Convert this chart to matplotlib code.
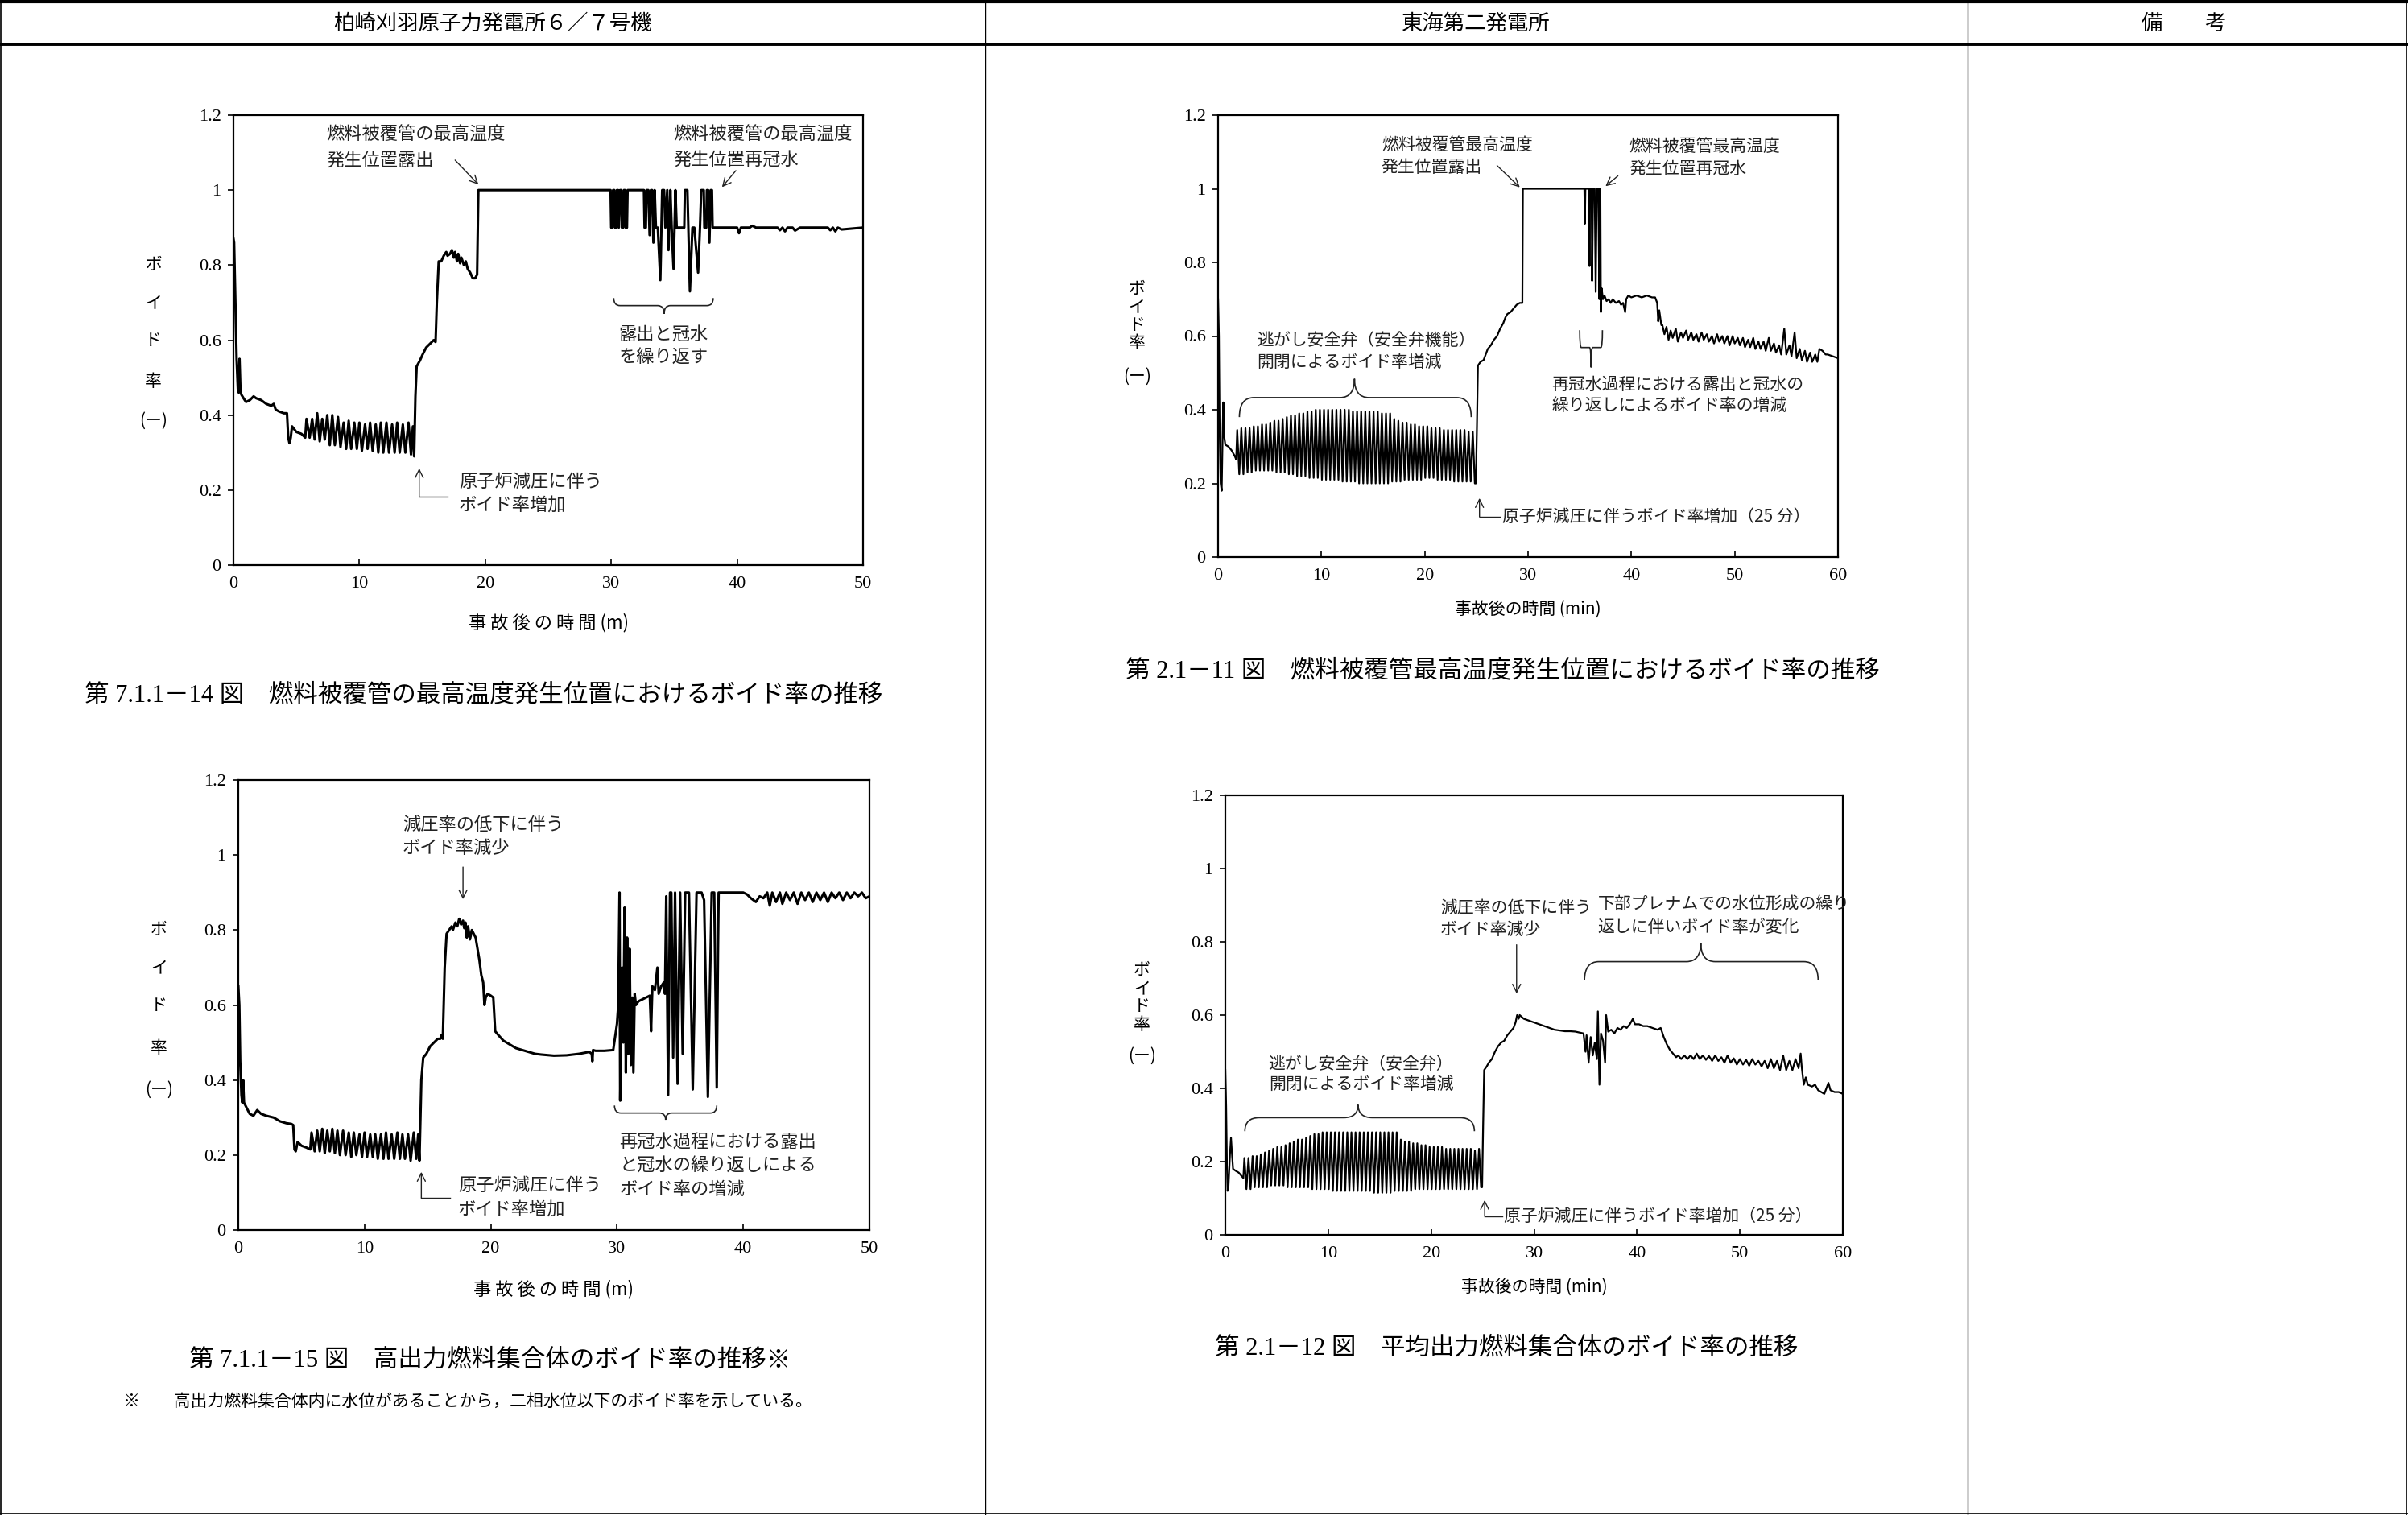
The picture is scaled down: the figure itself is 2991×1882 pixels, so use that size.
import numpy as np
import matplotlib
matplotlib.use("Agg")
import matplotlib.pyplot as plt
from matplotlib.path import Path
from matplotlib.patches import PathPatch
from matplotlib.lines import Line2D
import matplotlib.transforms as mtransforms

plt.rcParams['font.family'] = ['Liberation Serif', 'Noto Sans CJK JP', 'DejaVu Sans']
JP = ['Noto Sans CJK JP', 'DejaVu Sans']

W, H = 2991, 1882

# ---------------- data: 柏崎刈羽 (minutes, void fraction) ----------------
y_ticks = [0, 0.2, 0.4, 0.6, 0.8, 1.0, 1.2]
y_tick_labels = ["0", "0.2", "0.4", "0.6", "0.8", "1", "1.2"]
kk_x_ticks = [0, 10, 20, 30, 40, 50]
tk_x_ticks = [0, 10, 20, 30, 40, 50, 60]

# fig 7.1.1-14 : hottest cladding position
kk1_t_start = [0.0, 0.05, 0.15, 0.25, 0.35, 0.42, 0.48, 0.55, 0.62, 0.8, 1.0, 1.3, 1.6, 1.8, 2.2,
               2.6, 3.0, 3.2, 3.35, 3.6, 4.0, 4.25, 4.35, 4.45, 4.55, 4.65, 5.0, 5.4, 5.7]
kk1_v_start = [0.87, 0.86, 0.70, 0.55, 0.47, 0.46, 0.55, 0.47, 0.455, 0.445, 0.435, 0.44, 0.45, 0.445, 0.44,
               0.43, 0.425, 0.43, 0.415, 0.41, 0.405, 0.405, 0.34, 0.325, 0.34, 0.37, 0.355, 0.35, 0.34]
kk_osc_t = [5.80, 6.05, 6.25, 6.45, 6.65, 6.85, 7.05, 7.25, 7.45, 7.65, 7.85, 8.05, 8.30, 8.50,
            8.75, 8.95, 9.15, 9.35, 9.60, 9.80, 10.00, 10.20, 10.45, 10.65, 10.85, 11.05, 11.30, 11.50,
            11.70, 11.90, 12.15, 12.35, 12.60, 12.80, 13.00, 13.20, 13.45, 13.65, 13.90, 14.10, 14.25, 14.35]
kk1_osc_v = [0.39, 0.34, 0.39, 0.335, 0.405, 0.33, 0.39, 0.335, 0.40, 0.32, 0.40, 0.32, 0.395, 0.315,
             0.38, 0.31, 0.385, 0.31, 0.38, 0.31, 0.38, 0.305, 0.375, 0.31, 0.38, 0.305, 0.375, 0.30,
             0.38, 0.30, 0.38, 0.30, 0.375, 0.30, 0.38, 0.30, 0.375, 0.30, 0.38, 0.295, 0.37, 0.29]
kk1_t_end = [14.45, 14.55, 14.8, 15.0, 15.3, 15.6, 15.9, 16.05, 16.15, 16.3, 16.5, 16.7, 16.9, 17.0,
             17.2, 17.35, 17.5, 17.6, 17.75, 17.85, 18.0, 18.1, 18.3, 18.45, 18.6, 18.8, 19.0, 19.2,
             19.35, 19.45, 29.95,
             30.0, 30.1, 30.15, 30.25, 30.3, 30.4, 30.45, 30.55, 30.6, 30.7, 30.8, 30.85, 30.95, 31.0,
             31.1, 31.15, 31.25, 31.3, 32.6, 32.65, 32.75, 32.8, 32.95, 33.05, 33.15, 33.25, 33.35, 33.45,
             33.55, 33.7, 33.9, 34.05, 34.2, 34.3, 34.45, 34.55, 34.7, 34.8, 34.95, 35.1, 35.2, 35.8,
             35.85, 36.05, 36.25, 36.45, 36.6, 36.9, 37.05, 37.15, 37.35, 37.4, 37.55, 37.6, 37.7, 37.8,
             37.9, 38.0, 38.05, 38.2, 40.0, 40.15, 40.3, 41.0, 41.2, 41.5, 43.2, 43.4, 43.6, 43.8,
             44.0, 44.4, 44.6, 45.0, 47.2, 47.4, 47.6, 47.8, 48.0, 48.3, 50.0]
kk1_v_end = [0.45, 0.53, 0.545, 0.56, 0.58, 0.59, 0.60, 0.595, 0.70, 0.81, 0.81, 0.825, 0.835, 0.825,
             0.83, 0.84, 0.82, 0.835, 0.81, 0.83, 0.805, 0.82, 0.80, 0.81, 0.79, 0.78, 0.765, 0.765,
             0.775, 1.0, 1.0,
             0.9, 0.9, 1.0, 1.0, 0.9, 0.9, 1.0, 1.0, 0.9, 1.0, 1.0, 0.9, 0.9, 1.0,
             1.0, 0.9, 0.9, 1.0, 1.0, 0.9, 0.9, 1.0, 1.0, 0.88, 1.0, 1.0, 0.86, 1.0,
             0.9, 0.9, 0.76, 1.0, 1.0, 0.9, 1.0, 0.84, 1.0, 0.9, 0.79, 1.0, 0.9, 0.9,
             1.0, 1.0, 0.73, 0.9, 0.9, 0.78, 0.9, 1.0, 1.0, 0.9, 0.9, 1.0, 1.0, 0.86,
             1.0, 1.0, 0.9, 0.9, 0.9, 0.885, 0.9, 0.9, 0.905, 0.9, 0.9, 0.893, 0.9, 0.89,
             0.9, 0.9, 0.892, 0.9, 0.9, 0.893, 0.9, 0.89, 0.9, 0.895, 0.9]

# fig 7.1.1-15 : high power bundle
kk2_t_start = [0.0, 0.08, 0.15, 0.25, 0.32, 0.38, 0.45, 0.6, 0.9, 1.2, 1.5, 1.8, 2.2, 2.8, 3.3,
               3.8, 4.2, 4.35, 4.45, 4.55, 4.7, 5.0, 5.4, 5.7]
kk2_v_start = [0.65, 0.60, 0.45, 0.36, 0.34, 0.40, 0.34, 0.33, 0.31, 0.305, 0.32, 0.31, 0.305, 0.30, 0.29,
               0.285, 0.283, 0.28, 0.215, 0.21, 0.235, 0.225, 0.22, 0.215]
kk2_osc_v = [0.26, 0.21, 0.265, 0.21, 0.27, 0.205, 0.265, 0.21, 0.27, 0.205, 0.265, 0.20, 0.265, 0.20,
             0.26, 0.195, 0.26, 0.20, 0.255, 0.195, 0.26, 0.195, 0.255, 0.195, 0.255, 0.19, 0.255, 0.19,
             0.26, 0.19, 0.255, 0.19, 0.26, 0.19, 0.255, 0.19, 0.255, 0.185, 0.26, 0.19, 0.255, 0.185]
kk2_t_end = [14.5, 14.65, 14.9, 15.2, 15.5, 15.8, 16.0, 16.1, 16.2, 16.35, 16.5, 16.7, 16.9, 17.0,
             17.2, 17.35, 17.5, 17.65, 17.8, 17.9, 18.0, 18.1, 18.2, 18.35, 18.5, 18.65, 18.8, 18.95,
             19.1, 19.25, 19.4, 19.5, 19.6, 19.75, 20.0, 20.2, 20.35, 20.6, 21.0, 21.5, 22.0, 22.5,
             23.0, 23.5, 24.0, 25.0, 26.0, 27.0, 27.8, 28.0, 28.05, 28.1, 28.3, 29.0, 29.7,
             30.0, 30.1, 30.2, 30.25, 30.4, 30.5, 30.6, 30.7, 30.8, 30.9, 31.0, 31.1, 31.2, 31.3,
             31.4, 31.5, 31.7, 32.0, 32.3, 32.6, 32.7, 32.8, 33.0, 33.2, 33.3, 33.5, 33.7, 33.8,
             33.9, 34.05, 34.2, 34.3, 34.45, 34.6, 34.8, 35.0, 35.2, 35.4, 35.7, 36.0, 36.3, 36.7,
             36.9, 37.2, 37.5, 37.7, 37.9, 38.0, 38.05, 40.0, 40.3, 40.6, 41.0, 41.3, 41.6, 41.9,
             42.1, 42.3, 42.6, 42.9, 43.1, 43.4, 43.7, 44.0, 44.3, 44.6, 44.9, 45.2, 45.5, 45.8,
             46.1, 46.4, 46.7, 47.0, 47.3, 47.6, 47.9, 48.2, 48.5, 48.8, 49.1, 49.4, 49.7, 50.0]
kk2_v_end = [0.40, 0.46, 0.47, 0.49, 0.50, 0.51, 0.51, 0.52, 0.51, 0.70, 0.79, 0.80, 0.81, 0.80,
             0.82, 0.81, 0.83, 0.815, 0.825, 0.805, 0.82, 0.78, 0.81, 0.775, 0.80, 0.79, 0.78, 0.75,
             0.72, 0.68, 0.66, 0.60, 0.62, 0.63, 0.625, 0.62, 0.53, 0.52, 0.505, 0.495, 0.485, 0.48,
             0.475, 0.47, 0.468, 0.465, 0.466, 0.47, 0.475, 0.47, 0.45, 0.48, 0.478, 0.478, 0.48,
             0.55, 0.60, 0.90, 0.345, 0.70, 0.50, 0.86, 0.42, 0.78, 0.47, 0.75, 0.44, 0.62, 0.42,
             0.63, 0.60, 0.61, 0.615, 0.62, 0.625, 0.53, 0.65, 0.64, 0.70, 0.63, 0.65, 0.66, 0.63,
             0.89, 0.36, 0.90, 0.90, 0.46, 0.90, 0.39, 0.90, 0.47, 0.90, 0.90, 0.375, 0.90, 0.90,
             0.88, 0.355, 0.90, 0.90, 0.38, 0.75, 0.90, 0.90, 0.895, 0.885, 0.875, 0.89, 0.885, 0.90,
             0.865, 0.90, 0.875, 0.90, 0.87, 0.90, 0.88, 0.90, 0.87, 0.90, 0.88, 0.90, 0.875, 0.90,
             0.88, 0.90, 0.875, 0.90, 0.885, 0.90, 0.88, 0.90, 0.885, 0.90, 0.89, 0.90, 0.885, 0.89]

# ---------------- data: 東海第二 ----------------
tk_peak_t = [1.85, 2.25, 2.65, 3.05, 3.45, 3.85, 4.25, 4.65, 5.05, 5.45, 5.85, 6.25, 6.65, 7.05, 7.45,
             7.85, 8.25, 8.65, 9.05, 9.45, 9.85, 10.25, 10.65, 11.05, 11.45, 11.85, 12.25, 12.65, 13.05,
             13.45, 13.85, 14.25, 14.65, 15.05, 15.45, 15.85, 16.25, 16.65, 17.05, 17.45, 17.85, 18.25,
             18.65, 19.05, 19.45, 19.85, 20.25, 20.65, 21.05, 21.45, 21.85, 22.25, 22.65, 23.05, 23.45,
             23.85, 24.25, 24.65]
tk_trough_t = [2.05, 2.45, 2.85, 3.25, 3.65, 4.05, 4.45, 4.85, 5.25, 5.65, 6.05, 6.45, 6.85, 7.25, 7.65,
               8.05, 8.45, 8.85, 9.25, 9.65, 10.05, 10.45, 10.85, 11.25, 11.65, 12.05, 12.45, 12.85, 13.25,
               13.65, 14.05, 14.45, 14.85, 15.25, 15.65, 16.05, 16.45, 16.85, 17.25, 17.65, 18.05, 18.45,
               18.85, 19.25, 19.65, 20.05, 20.45, 20.85, 21.25, 21.65, 22.05, 22.45, 22.85, 23.25, 23.65,
               24.05, 24.45, 24.85]

# fig 2.1-11 : hottest cladding position
tk1_t_start = [0.0, 0.08, 0.15, 0.25, 0.35, 0.42, 0.5, 0.58, 0.7, 1.0, 1.3, 1.6, 1.75]
tk1_v_start = [0.70, 0.60, 0.35, 0.20, 0.18, 0.30, 0.42, 0.33, 0.305, 0.30, 0.29, 0.275, 0.265]
tk1_peak_v = [0.345, 0.35, 0.35, 0.35, 0.355,
              0.355, 0.36, 0.36, 0.365, 0.37,
              0.37, 0.375, 0.38, 0.385, 0.385,
              0.39, 0.39, 0.395, 0.395, 0.40,
              0.40, 0.40, 0.40, 0.40, 0.40,
              0.40, 0.40, 0.40, 0.395, 0.395,
              0.395, 0.395, 0.395, 0.395, 0.395,
              0.39, 0.39, 0.39, 0.375, 0.37,
              0.365, 0.365, 0.36, 0.36, 0.355,
              0.355, 0.355, 0.35, 0.35, 0.35,
              0.345, 0.345, 0.345, 0.345, 0.345,
              0.345, 0.34, 0.34]
tk1_trough_v = [0.225, 0.225, 0.23, 0.23, 0.235,
                0.235, 0.235, 0.235, 0.235, 0.23,
                0.23, 0.23, 0.225, 0.225, 0.22,
                0.22, 0.22, 0.215, 0.215, 0.215,
                0.21, 0.21, 0.21, 0.21, 0.21,
                0.205, 0.205, 0.205, 0.205, 0.20,
                0.20, 0.20, 0.20, 0.20, 0.20,
                0.20, 0.20, 0.205, 0.205, 0.205,
                0.21, 0.21, 0.21, 0.21, 0.21,
                0.215, 0.215, 0.215, 0.21, 0.21,
                0.21, 0.21, 0.205, 0.205, 0.205,
                0.205, 0.205, 0.20]
tk1_t_end = [24.95, 25.05, 25.15, 25.4, 25.7, 25.9, 26.1, 26.4, 26.7, 27.0, 27.3, 27.6, 27.8, 28.0,
             28.3, 28.6, 28.9, 29.2, 29.45, 29.5, 35.45, 35.5, 35.55, 35.9, 35.95, 36.0, 36.15, 36.2,
             36.3, 36.45, 36.55, 36.65, 36.8, 36.9, 36.95, 37.0, 37.05, 37.12, 37.25, 37.4, 37.6, 37.8,
             38.0, 38.2, 38.5, 38.8, 39.0, 39.2, 39.4, 39.5, 39.7, 40.0, 40.5, 41.0, 41.5, 42.0,
             42.3, 42.5, 42.6, 42.7, 42.9,
             43.0, 43.2, 43.4, 43.6, 43.8, 44.0, 44.3, 44.5, 44.8, 45.0, 45.3, 45.5, 45.8, 46.0,
             46.3, 46.5, 46.8, 47.0, 47.3, 47.5, 47.8, 48.0, 48.3, 48.5, 48.8, 49.0, 49.3, 49.5,
             49.8, 50.0, 50.3, 50.5, 50.8, 51.0, 51.3, 51.5, 51.8, 52.0, 52.3, 52.5, 52.8, 53.0,
             53.3, 53.5, 53.8, 54.0, 54.3, 54.5, 54.8, 55.0, 55.3, 55.5, 55.8, 56.0, 56.3, 56.5,
             56.8, 57.0, 57.3, 57.5, 57.8, 58.0, 58.2, 58.5, 58.8, 59.0, 59.5, 60.0]
tk1_v_end = [0.20, 0.35, 0.52, 0.53, 0.535, 0.55, 0.565, 0.575, 0.59, 0.60, 0.62, 0.635, 0.65, 0.66,
             0.665, 0.675, 0.685, 0.69, 0.69, 1.0, 1.0, 0.905, 1.0, 1.0, 0.79, 1.0, 1.0, 0.75,
             1.0, 1.0, 0.72, 1.0, 1.0, 0.70, 1.0, 1.0, 0.665, 0.73, 0.70, 0.71, 0.695, 0.70,
             0.69, 0.70, 0.69, 0.695, 0.685, 0.69, 0.665, 0.70, 0.71, 0.705, 0.71, 0.705, 0.71, 0.705,
             0.705, 0.69, 0.64, 0.67, 0.63,
             0.63, 0.605, 0.625, 0.59, 0.615, 0.595, 0.62, 0.585, 0.61, 0.595, 0.615, 0.59, 0.61, 0.59,
             0.605, 0.585, 0.61, 0.59, 0.605, 0.585, 0.60, 0.58, 0.605, 0.585, 0.60, 0.58, 0.60, 0.575,
             0.60, 0.58, 0.595, 0.575, 0.595, 0.57, 0.59, 0.57, 0.595, 0.565, 0.585, 0.565, 0.585, 0.56,
             0.595, 0.56, 0.58, 0.555, 0.575, 0.55, 0.62, 0.55, 0.575, 0.545, 0.61, 0.54, 0.565, 0.535,
             0.56, 0.53, 0.555, 0.53, 0.55, 0.53, 0.565, 0.56, 0.55, 0.55, 0.545, 0.54]

# fig 2.1-12 : average power bundle
tk2_t_start = [0.0, 0.08, 0.15, 0.22, 0.3, 0.45, 0.55, 0.65, 0.75, 1.0, 1.3, 1.6, 1.75]
tk2_v_start = [0.45, 0.35, 0.20, 0.12, 0.13, 0.22, 0.265, 0.22, 0.18, 0.175, 0.17, 0.16, 0.155]
tk2_peak_v = [0.21, 0.21, 0.215, 0.215, 0.22,
              0.225, 0.23, 0.235, 0.24, 0.24,
              0.245, 0.25, 0.255, 0.26, 0.26,
              0.265, 0.27, 0.275, 0.275, 0.28,
              0.28, 0.28, 0.28, 0.28, 0.28,
              0.28, 0.28, 0.28, 0.28, 0.28,
              0.28, 0.28, 0.28, 0.28, 0.28,
              0.28, 0.28, 0.28, 0.26, 0.255,
              0.255, 0.25, 0.25, 0.245, 0.245,
              0.24, 0.24, 0.24, 0.24, 0.235,
              0.235, 0.235, 0.235, 0.235, 0.235,
              0.235, 0.23, 0.235]
tk2_trough_v = [0.125, 0.125, 0.13, 0.13, 0.13,
                0.13, 0.135, 0.135, 0.135, 0.135,
                0.13, 0.13, 0.13, 0.13, 0.13,
                0.13, 0.125, 0.125, 0.125, 0.125,
                0.125, 0.12, 0.12, 0.12, 0.12,
                0.12, 0.12, 0.12, 0.12, 0.12,
                0.12, 0.115, 0.115, 0.115, 0.115,
                0.115, 0.12, 0.12, 0.12, 0.12,
                0.12, 0.125, 0.125, 0.125, 0.125,
                0.125, 0.125, 0.125, 0.125, 0.125,
                0.125, 0.125, 0.125, 0.125, 0.125,
                0.125, 0.125, 0.13]
tk2_t_end = [24.95, 25.05, 25.15, 25.4, 25.6, 25.9, 26.2, 26.5, 26.8, 27.1, 27.4, 27.7, 28.0, 28.2,
             28.35, 28.5, 28.6, 29.0, 29.5, 30.0, 30.5, 31.0, 31.5, 32.0, 32.5, 33.0, 33.5, 34.0,
             34.5, 34.8, 35.0, 35.1, 35.3, 35.5, 35.7, 35.9, 36.1, 36.2, 36.35, 36.5, 36.7, 36.9,
             37.0, 37.2, 37.5, 37.8, 38.1, 38.4, 38.7, 39.0, 39.3, 39.6, 39.8, 40.2, 40.6, 41.0,
             41.5, 42.0, 42.3, 42.6, 42.9, 43.2, 43.5, 43.8, 44.0, 44.3, 44.6, 44.9, 45.2, 45.5,
             45.8, 46.1, 46.4, 46.7, 47.0, 47.3, 47.6, 47.9, 48.2, 48.5, 48.8, 49.1, 49.4, 49.7,
             50.0, 50.3, 50.6, 50.9, 51.2, 51.5, 51.8, 52.1, 52.4, 52.7, 53.0, 53.3, 53.6, 53.9,
             54.2, 54.5, 54.8, 55.1, 55.4, 55.7, 55.9, 56.0, 56.2, 56.4, 56.6, 57.0, 57.3, 57.6,
             57.9, 58.2, 58.4, 58.6, 58.8, 59.2, 59.6, 60.0]
tk2_v_end = [0.13, 0.30, 0.45, 0.46, 0.47, 0.48, 0.50, 0.515, 0.525, 0.53, 0.545, 0.555, 0.565, 0.58,
             0.60, 0.59, 0.60, 0.59, 0.585, 0.58, 0.575, 0.57, 0.565, 0.56, 0.558, 0.556, 0.556, 0.555,
             0.552, 0.55, 0.50, 0.545, 0.47, 0.54, 0.49, 0.525, 0.48, 0.61, 0.41, 0.55, 0.53, 0.47,
             0.60, 0.555, 0.56, 0.55, 0.565, 0.56, 0.57, 0.565, 0.575, 0.59, 0.575, 0.575, 0.57, 0.57,
             0.565, 0.56, 0.565, 0.54, 0.52, 0.505, 0.495, 0.485, 0.49, 0.48, 0.49, 0.48, 0.49, 0.48,
             0.495, 0.48, 0.49, 0.478, 0.488, 0.475, 0.49, 0.475, 0.485, 0.47, 0.49, 0.47, 0.482, 0.465,
             0.48, 0.465, 0.478, 0.462, 0.48, 0.465, 0.475, 0.46, 0.475, 0.455, 0.48, 0.455, 0.475, 0.45,
             0.49, 0.45, 0.475, 0.45, 0.48, 0.455, 0.495, 0.46, 0.41, 0.43, 0.41, 0.405, 0.41, 0.395,
             0.39, 0.385, 0.40, 0.415, 0.395, 0.39, 0.39, 0.385]


def interleave(a, b):
    return np.ravel(np.column_stack([a, b]))


kk1_t = np.concatenate([kk1_t_start, kk_osc_t, kk1_t_end])
kk1_v = np.concatenate([kk1_v_start, kk1_osc_v, kk1_v_end])
kk2_t = np.concatenate([kk2_t_start, kk_osc_t, kk2_t_end])
kk2_v = np.concatenate([kk2_v_start, kk2_osc_v, kk2_v_end])
tk1_t = np.concatenate([tk1_t_start, interleave(tk_peak_t, tk_trough_t), tk1_t_end])
tk1_v = np.concatenate([tk1_v_start, interleave(tk1_peak_v, tk1_trough_v), tk1_v_end])
tk2_t = np.concatenate([tk2_t_start, interleave(tk_peak_t, tk_trough_t), tk2_t_end])
tk2_v = np.concatenate([tk2_v_start, interleave(tk2_peak_v, tk2_trough_v), tk2_v_end])


# ---------------- helpers ----------------
def fx(px):
    return px / W


def fy(py):
    return 1 - py / H


def setup(ax, xmax, xticks):
    ax.set_xlim(0, xmax)
    ax.set_ylim(0, 1.2)
    ax.set_xticks(xticks)
    ax.set_xticklabels([str(v) for v in xticks])
    ax.set_yticks(y_ticks)
    ax.set_yticklabels(y_tick_labels)
    ax.tick_params(axis='y', direction='out', length=5, width=1.2, pad=6, labelsize=16)
    ax.tick_params(axis='x', direction='in', length=5, width=1.2, pad=10, labelsize=16)
    for s in ax.spines.values():
        s.set_linewidth(1.6)


def jtext(ax, x, y, s, size=15, ha='left'):
    ax.text(x, y, s, fontsize=size, family=JP, ha=ha, va='center', color='#222222')


def brace(ax, x1, x2, y_end, y_mid, y_tip, xm, r, lw=1.2):
    verts = [(x1, y_end), (x1, y_mid), (x1 + r, y_mid),
             (xm - r, y_mid), (xm, y_mid), (xm, y_tip),
             (xm, y_mid), (xm + r, y_mid),
             (x2 - r, y_mid), (x2, y_mid), (x2, y_end)]
    codes = [Path.MOVETO, Path.CURVE3, Path.CURVE3,
             Path.LINETO, Path.CURVE3, Path.CURVE3,
             Path.CURVE3, Path.CURVE3,
             Path.LINETO, Path.CURVE3, Path.CURVE3]
    ax.add_patch(PathPatch(Path(verts, codes), fill=False, lw=lw, color='#222222'))


def arrow(ax, x0, y0, x1, y1, lw=1.0):
    ax.annotate('', xy=(x1, y1), xytext=(x0, y0),
                arrowprops=dict(arrowstyle='->', lw=lw, color='#222222',
                                shrinkA=0, shrinkB=0, mutation_scale=18))


def l_arrow(ax, xh, y_head, y_bot, x_end, lw=1.0):
    ax.plot([xh, x_end], [y_bot, y_bot], color='#222222', lw=lw)
    arrow(ax, xh, y_bot, xh, y_head, lw)


def ylabel(ax, xoff, ys, labels, size=15):
    tr = mtransforms.blended_transform_factory(ax.transAxes, ax.transData)
    for y, s in zip(ys, labels):
        ax.text(xoff, y, s, transform=tr, fontsize=size, family=JP, ha='center', va='center')


fig = plt.figure(figsize=(W / 100, H / 100), dpi=100)

# ---------------- table frame ----------------
def hline(y, lw, x0=0, x1=W):
    fig.add_artist(Line2D([fx(x0), fx(x1)], [fy(y), fy(y)], color='black', lw=lw))


def vline(x, lw, y0=0, y1=H):
    fig.add_artist(Line2D([fx(x), fx(x)], [fy(y0), fy(y1)], color='black', lw=lw))


hline(2, 3.0)
hline(55, 2.8)
hline(1880, 1.2)
vline(1, 1.2)
vline(2989, 1.2)
vline(1224, 1.0)
vline(2444, 1.0)

fig.text(fx(612), fy(29), "柏崎刈羽原子力発電所６／７号機", fontsize=19, family=JP, ha='center', va='center')
fig.text(fx(1833), fy(29), "東海第二発電所", fontsize=19, family=JP, ha='center', va='center')
fig.text(fx(2713), fy(29), "備　　考", fontsize=19, family=JP, ha='center', va='center')

# ---------------- chart 1 ----------------
ax1 = fig.add_axes([fx(290), fy(702), (1072 - 290) / W, (702 - 143) / H])
setup(ax1, 50, kk_x_ticks)
ax1.plot(kk1_t, kk1_v, color='black', lw=2.2)
jtext(ax1, 7.35, 1.148, "燃料被覆管の最高温度", 16)
jtext(ax1, 7.35, 1.080, "発生位置露出", 16)
arrow(ax1, 17.6, 1.08, 19.45, 1.015)
jtext(ax1, 34.9, 1.148, "燃料被覆管の最高温度", 16)
jtext(ax1, 34.9, 1.080, "発生位置再冠水", 16)
arrow(ax1, 39.9, 1.052, 38.8, 1.008)
brace(ax1, 30.2, 38.1, 0.712, 0.692, 0.670, 34.2, 0.5)
jtext(ax1, 34.2, 0.616, "露出と冠水", 16, ha='center')
jtext(ax1, 34.2, 0.556, "を繰り返す", 16, ha='center')
l_arrow(ax1, 14.75, 0.258, 0.183, 17.0)
jtext(ax1, 17.9, 0.223, "原子炉減圧に伴う", 16)
jtext(ax1, 17.9, 0.160, "ボイド率増加", 16)
ax1.text(0.5, -0.128, "事 故 後 の 時 間 (m)", transform=ax1.transAxes, fontsize=16,
         family=JP, ha='center', va='center')
ylabel(ax1, -0.127, [0.80, 0.70, 0.60, 0.49, 0.385], ["ボ", "イ", "ド", "率", "(ー)"])
fig.text(fx(105), fy(864), "第 7.1.1－14 図　燃料被覆管の最高温度発生位置におけるボイド率の推移",
         fontsize=22, ha='left', va='center')

# ---------------- chart 2 ----------------
ax2 = fig.add_axes([fx(296), fy(1528), (1080 - 296) / W, (1528 - 969) / H])
setup(ax2, 50, kk_x_ticks)
ax2.plot(kk2_t, kk2_v, color='black', lw=2.2)
jtext(ax2, 13.0, 1.080, "減圧率の低下に伴う", 16)
jtext(ax2, 13.0, 1.018, "ボイド率減少", 16)
arrow(ax2, 17.8, 0.968, 17.8, 0.882)
l_arrow(ax2, 14.5, 0.155, 0.086, 16.8)
jtext(ax2, 17.4, 0.120, "原子炉減圧に伴う", 16)
jtext(ax2, 17.4, 0.055, "ボイド率増加", 16)
brace(ax2, 29.8, 37.9, 0.332, 0.312, 0.294, 33.85, 0.5)
jtext(ax2, 30.2, 0.236, "再冠水過程における露出", 16)
jtext(ax2, 30.2, 0.172, "と冠水の繰り返しによる", 16)
jtext(ax2, 30.2, 0.108, "ボイド率の増減", 16)
ax2.text(0.5, -0.132, "事 故 後 の 時 間 (m)", transform=ax2.transAxes, fontsize=16,
         family=JP, ha='center', va='center')
ylabel(ax2, -0.126, [0.80, 0.70, 0.60, 0.485, 0.375], ["ボ", "イ", "ド", "率", "(ー)"])
fig.text(fx(235), fy(1690), "第 7.1.1－15 図　高出力燃料集合体のボイド率の推移※",
         fontsize=22, ha='left', va='center')
fig.text(fx(153), fy(1741), "※　　高出力燃料集合体内に水位があることから，二相水位以下のボイド率を示している。",
         fontsize=15, family=JP, ha='left', va='center')

# ---------------- chart 3 ----------------
ax3 = fig.add_axes([fx(1513), fy(692), (2283 - 1513) / W, (692 - 143) / H])
setup(ax3, 60, tk_x_ticks)
ax3.plot(tk1_t, tk1_v, color='black', lw=1.6)
jtext(ax3, 15.8, 1.120, "燃料被覆管最高温度")
jtext(ax3, 15.8, 1.059, "発生位置露出")
arrow(ax3, 27.0, 1.063, 29.2, 1.004)
jtext(ax3, 39.75, 1.115, "燃料被覆管最高温度")
jtext(ax3, 39.75, 1.054, "発生位置再冠水")
arrow(ax3, 38.7, 1.035, 37.5, 1.007)
brace(ax3, 35.0, 37.2, 0.616, 0.569, 0.515, 36.1, 0.15)
jtext(ax3, 32.3, 0.468, "再冠水過程における露出と冠水の")
jtext(ax3, 32.3, 0.410, "繰り返しによるボイド率の増減")
brace(ax3, 2.06, 24.5, 0.38, 0.433, 0.484, 13.2, 1.4)
jtext(ax3, 3.76, 0.588, "逃がし安全弁（安全弁機能）")
jtext(ax3, 3.76, 0.529, "開閉によるボイド率増減")
l_arrow(ax3, 25.3, 0.160, 0.109, 27.3)
jtext(ax3, 27.5, 0.109, "原子炉減圧に伴うボイド率増加（25 分）")
ax3.text(0.5, -0.118, "事故後の時間 (min)", transform=ax3.transAxes, fontsize=15,
         family=JP, ha='center', va='center')
ylabel(ax3, -0.131, [0.728, 0.68, 0.629, 0.581, 0.491], ["ボ", "イ", "ド", "率", "(ー)"])
fig.text(fx(1398), fy(834), "第 2.1－11 図　燃料被覆管最高温度発生位置におけるボイド率の推移",
         fontsize=22, ha='left', va='center')

# ---------------- chart 4 ----------------
ax4 = fig.add_axes([fx(1522), fy(1534), (2289 - 1522) / W, (1534 - 988) / H])
setup(ax4, 60, tk_x_ticks)
ax4.plot(tk2_t, tk2_v, color='black', lw=1.6)
jtext(ax4, 20.9, 0.893, "減圧率の低下に伴う")
jtext(ax4, 20.9, 0.833, "ボイド率減少")
arrow(ax4, 28.3, 0.792, 28.3, 0.659)
jtext(ax4, 36.2, 0.903, "下部プレナムでの水位形成の繰り")
jtext(ax4, 36.2, 0.840, "返しに伴いボイド率が変化")
brace(ax4, 34.9, 57.6, 0.695, 0.746, 0.797, 46.2, 1.4)
brace(ax4, 1.9, 24.2, 0.283, 0.320, 0.355, 12.9, 1.4)
jtext(ax4, 4.2, 0.467, "逃がし安全弁（安全弁）")
jtext(ax4, 4.2, 0.412, "開閉によるボイド率増減")
l_arrow(ax4, 25.2, 0.095, 0.051, 26.9)
jtext(ax4, 27.1, 0.051, "原子炉減圧に伴うボイド率増加（25 分）")
ax4.text(0.5, -0.119, "事故後の時間 (min)", transform=ax4.transAxes, fontsize=15,
         family=JP, ha='center', va='center')
ylabel(ax4, -0.135, [0.723, 0.672, 0.624, 0.574, 0.488], ["ボ", "イ", "ド", "率", "(ー)"])
fig.text(fx(1509), fy(1675), "第 2.1－12 図　平均出力燃料集合体のボイド率の推移",
         fontsize=22, ha='left', va='center')

fig.savefig("out.png", dpi=100)
